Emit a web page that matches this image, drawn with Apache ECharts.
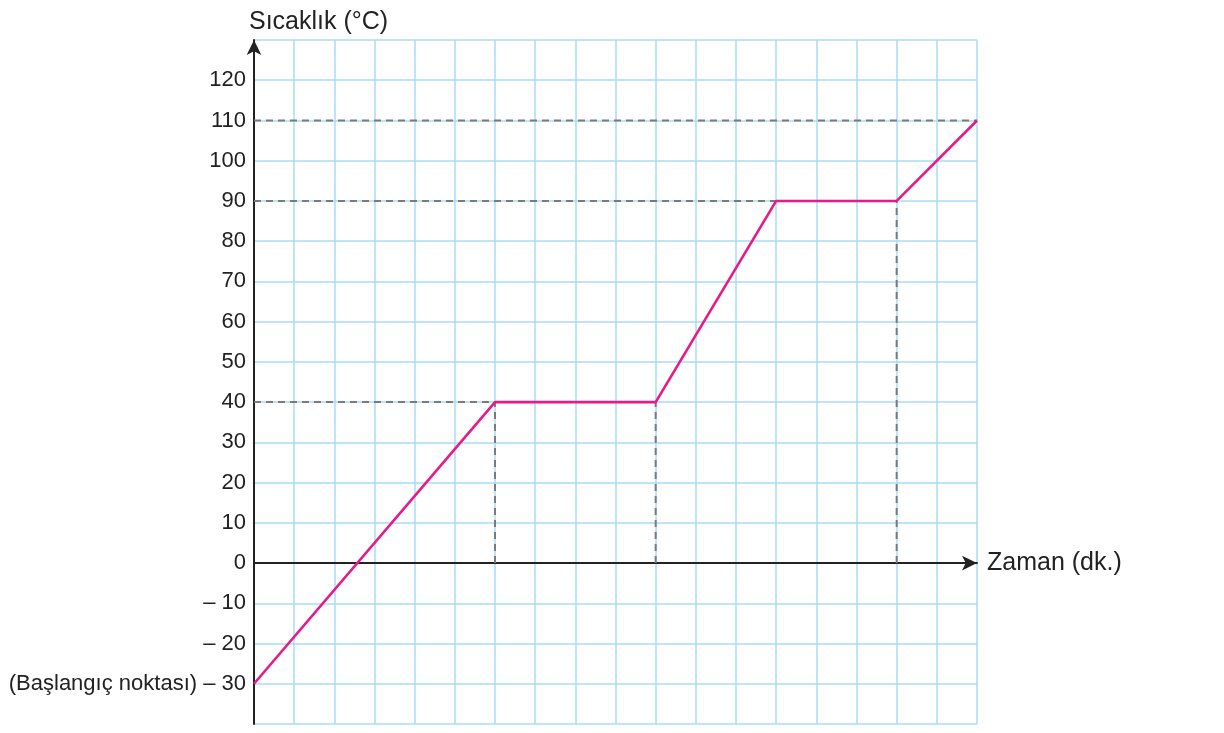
<!DOCTYPE html>
<html>
<head>
<meta charset="utf-8">
<script src="https://cdn.jsdelivr.net/npm/echarts@6/dist/echarts.min.js"></script>
<style>html,body{margin:0;padding:0;background:#fff}#c{width:1224px;height:733px}</style>
</head>
<body>
<div id="c"></div>
<script>
var timeVals = [0, 6, 10, 13, 16, 18];
var tempVals = [-30, 40, 40, 90, 90, 110];
var yTitle = 'Sıcaklık (°C)';
var xTitle = 'Zaman (dk.)';
var startNote = '(Başlangıç noktası)';

var font = "'Liberation Sans', Arial, Helvetica, sans-serif";
var chart = echarts.init(document.getElementById('c'));

var series = [];
// dashed guides
var hGuides = [[0, 40, 10, 40], [0, 90, 16, 90], [0, 110, 18, 110]];
var vGuides = [[6, 0, 6, 40], [10, 0, 10, 40], [16, 0, 16, 90]];
hGuides.concat(vGuides).forEach(function (g) {
  series.push({
    type: 'line', data: [[g[0], g[1]], [g[2], g[3]]], symbol: 'none', silent: true,
    lineStyle: { color: '#7a7a7a', width: 2, type: [7, 5] }, z: 3
  });
});
series.push({
  type: 'line',
  data: timeVals.map(function (t, i) { return [t, tempVals[i]]; }),
  symbol: 'none',
  lineStyle: { color: '#e8198b', width: 2.6 },
  z: 5
});

chart.setOption({
  animation: false,
  title: {
    text: yTitle, left: 244, top: 5,
    textStyle: { fontFamily: font, fontSize: 25, fontWeight: 'normal', color: '#222' }
  },
  grid: { left: 254, right: 247, top: 40, bottom: 9, containLabel: false },
  xAxis: {
    type: 'value', min: 0, max: 18, interval: 1,
    name: xTitle, nameLocation: 'end', nameGap: 10,
    nameTextStyle: { fontFamily: font, fontSize: 25, color: '#222' },
    axisLine: { onZero: true, show: true, lineStyle: { color: '#222', width: 2 }, symbol: ['none', 'arrow'], symbolSize: [11, 15], symbolOffset: [0, 0] },
    axisTick: { show: false },
    axisLabel: { show: false },
    splitLine: { show: true, lineStyle: { color: '#a8dcf4', width: 1.5 } }
  },
  yAxis: {
    type: 'value', min: -40, max: 130, interval: 10,
    axisLine: { show: true, onZero: false, lineStyle: { color: '#222', width: 2 }, symbol: ['none', 'arrow'], symbolSize: [11, 15] },
    axisTick: { show: false },
    axisLabel: {
      margin: 8, fontFamily: font, fontSize: 22, color: '#222',
      formatter: function (v) {
        if (v === -40 || v === 130) return '';
        if (v < 0) {
          var s = '\u2013 ' + Math.abs(v);
          if (v === -30) s = startNote + ' ' + s;
          return s;
        }
        return String(v);
      }
    },
    splitLine: { show: true, lineStyle: { color: '#a8dcf4', width: 1.5 } }
  },
  series: series
});
</script>
</body>
</html>
